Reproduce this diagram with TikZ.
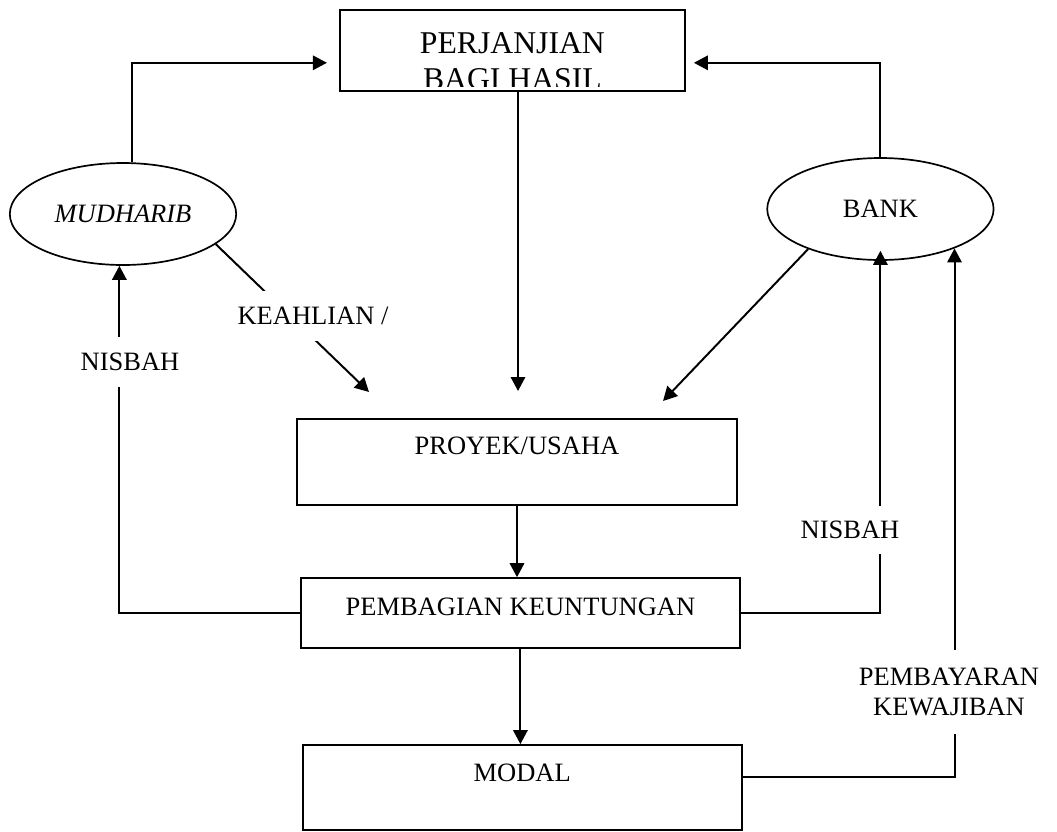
\documentclass[tikz,border=0pt]{standalone}
\usepackage{fontspec}
\setmainfont{Liberation Serif}
\usetikzlibrary{shapes.geometric,arrows.meta,calc}
\newcommand{\lblsize}{\fontsize{18.85pt}{21.3pt}\selectfont}
\newcommand{\perjsize}{\fontsize{22.55pt}{25.6pt}\selectfont}
\tikzset{
  arr/.style={-{Triangle[length=0.35cm,width=0.36cm]},line width=1.4pt},
  box/.style={rectangle,draw,line width=1.4pt,minimum width=10.98cm,
    inner sep=2pt,font=\lblsize},
  tbox/.style={box,text height=0.45cm},
  oval/.style={ellipse,draw,line width=1.2pt,minimum width=5.66cm,
    minimum height=2.55cm,inner sep=0pt,font=\lblsize},
  lbl/.style={fill=white,inner sep=2pt,align=center,font=\lblsize},
}

\begin{document}
\begin{tikzpicture}
\useasboundingbox (0,0) rectangle (26.425,-20.775);

% PERJANJIAN (top, text clipped by the box)
\node[box,minimum width=8.625cm,minimum height=2.025cm,
  path picture={
    \clip ([yshift=0.11cm]path picture bounding box.south west)
      rectangle (path picture bounding box.north east);
    \node[draw=none,fill=none,align=center,font=\perjsize]
      at ([yshift=-0.27cm]path picture bounding box.center)
      {PERJANJIAN\\BAGI HASIL};}] (perj) at (12.81,-1.26) {};

% parties
\node[oval] (mud) at (3.075,-5.35) {\textit{MUDHARIB}};
\node[oval] (bank) at (22.01,-5.225) {BANK};

% flow boxes
\node[tbox,minimum height=2.14cm,text depth=0.81cm] (proyek) at (12.925,-11.55) {PROYEK/USAHA};
\node[tbox,minimum height=1.75cm,text depth=0.36cm] (pemb) at (13.01,-15.33) {PEMBAGIAN KEUNTUNGAN};
\node[tbox,minimum height=2.125cm,text depth=0.76cm] (modal) at (13.055,-19.69) {MODAL};

% free arrow ends above PROYEK/USAHA
\coordinate (kEnd) at (9.225,-9.8);
\coordinate (bEnd) at (16.575,-10.025);
\coordinate (pEnd) at (12.95,-9.775);

% Relations
\draw[arr,shorten >=0.3cm] (mud.80) |- ([yshift=-0.31cm]perj.west);
\draw[arr,shorten >=0.2cm] (bank.north) |- ([yshift=-0.31cm]perj.east);
\draw[arr] (perj.south -| pEnd) -- (pEnd);
\draw[arr] (mud.-18) -- (kEnd);
\draw[arr] (bank.-151) -- (bEnd);
\draw[arr] (proyek.south) -- (proyek.south |- pemb.north);
\draw[arr] (pemb.south) -- (pemb.south |- modal.north);
\draw[arr] (pemb.west) -| (mud.-94);
\draw[arr,shorten >=-0.25cm] (pemb.east) -| (bank.south);
\draw[arr] ([yshift=0.26cm]modal.east) -| (bank.-28);

% labels on the lines
\node[lbl,minimum height=1.25cm] (kLbl) at (7.825,-7.9) {KEAHLIAN /};
\node[lbl,minimum height=1.25cm] (nLeft) at (3.25,-9.05) {NISBAH};
\node[lbl,minimum height=1.2cm] (nRight) at (21.25,-13.25) {NISBAH};
\node[lbl,minimum height=2.1cm] (bayar) at (23.725,-17.3) {PEMBAYARAN\\KEWAJIBAN};
\end{tikzpicture}
\end{document}
